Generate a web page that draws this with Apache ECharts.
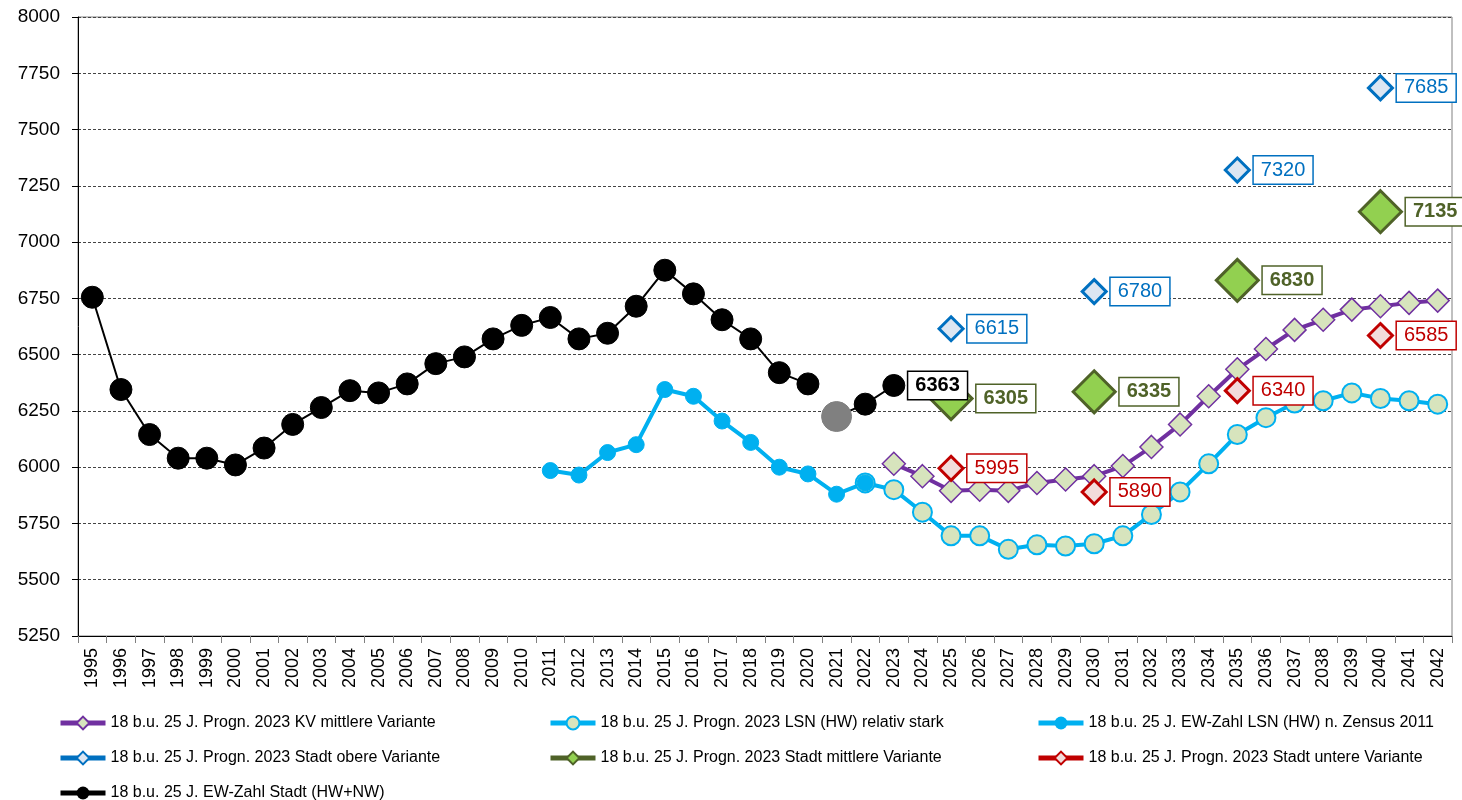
<!DOCTYPE html>
<html>
<head>
<meta charset="utf-8">
<script src="https://cdn.jsdelivr.net/npm/echarts@6/dist/echarts.min.js"></script>
<style>
  html, body { margin: 0; padding: 0; background: #fff; }
  #chart { width: 1462px; height: 800px; }
</style>
</head>
<body>
<div id="chart"></div>
<script>
// Kategorien (Jahre)
const years = ['1995','1996','1997','1998','1999','2000','2001','2002','2003','2004','2005','2006',
  '2007','2008','2009','2010','2011','2012','2013','2014','2015','2016','2017','2018','2019','2020',
  '2021','2022','2023','2024','2025','2026','2027','2028','2029','2030','2031','2032','2033','2034',
  '2035','2036','2037','2038','2039','2040','2041','2042']

// EW-Zahl Stadt (HW+NW), 1995-2020 und 2021-2023
const ewStadtHist = [6755, 6345, 6145, 6040, 6040, 6010, 6085, 6190, 6265, 6340, 6330, 6370,
  6460, 6490, 6570, 6630, 6665, 6570, 6595, 6715, 6875, 6770, 6655, 6570, 6420, 6370]
const ewStadtRecent = [6225, 6280, 6363]

// EW-Zahl LSN (HW) n. Zensus 2011, 2011-2022
const lsnZensus = [5985, 5965, 6065, 6100, 6345, 6315, 6205, 6110, 6000, 5970, 5880, 5930]

// Progn. 2023 LSN (HW) relativ stark, 2022-2042
const lsnStark = [5930, 5900, 5800, 5695, 5695, 5635, 5655, 5650, 5660, 5695, 5790, 5890,
  6015, 6145, 6220, 6285, 6295, 6330, 6305, 6295, 6280]

// Progn. 2023 KV mittlere Variante, 2023-2042
const kvMittel = [6015, 5960, 5895, 5900, 5895, 5930, 5945, 5960, 6005, 6090, 6190, 6315,
  6435, 6525, 6610, 6655, 6700, 6715, 6730, 6740]

// Progn. 2023 Stadt-Varianten
const stadtYears = ['2025', '2030', '2035', '2040']
const stadtOben = [6615, 6780, 7320, 7685]
const stadtMittel = [6305, 6335, 6830, 7135]
const stadtUnten = [5995, 5890, 6340, 6585]

const names = {
  kv: '18 b.u. 25 J. Progn. 2023 KV mittlere Variante',
  stark: '18 b.u. 25 J. Progn. 2023 LSN (HW) relativ stark',
  zensus: '18 b.u. 25 J. EW-Zahl LSN (HW) n. Zensus 2011',
  oben: '18 b.u. 25 J. Progn. 2023 Stadt obere Variante',
  mittel: '18 b.u. 25 J. Progn. 2023 Stadt mittlere Variante',
  unten: '18 b.u. 25 J. Progn. 2023 Stadt untere Variante',
  stadt: '18 b.u. 25 J. EW-Zahl Stadt (HW+NW)'
}

// Werte ab einem Startjahr auf die Jahresachse legen
const fromYear = (start, values) => {
  const out = years.map(() => null)
  const i0 = years.indexOf(start)
  values.forEach((v, i) => { out[i0 + i] = v })
  return out
}
const atYears = (ys, values) => {
  const out = years.map(() => null)
  ys.forEach((y, i) => { out[years.indexOf(y)] = values[i] })
  return out
}

const FONT = '"Liberation Sans", Arial, sans-serif'

const boxLabel = (color, bold) => ({
  show: true,
  position: 'right',
  distance: 3,
  formatter: '{c}',
  color: color,
  fontFamily: FONT,
  fontSize: 20,
  fontWeight: bold ? 'bold' : 'normal',
  backgroundColor: '#fff',
  borderColor: color,
  borderWidth: 1.5,
  padding: [4, 7, 3, 7]
})

const stadtSeries = (name, data, color, fill, size, bold) => ({
  name: name,
  type: 'line',
  data: atYears(stadtYears, data),
  connectNulls: false,
  symbol: 'diamond',
  symbolSize: size,
  itemStyle: {color: fill, borderColor: color, borderWidth: 3},
  lineStyle: {color: color, width: 4},
  label: boxLabel(color, bold),
  z: 4
})

const recentData = fromYear('2021', ewStadtRecent)
recentData[years.indexOf('2021')] = {
  value: ewStadtRecent[0],
  symbolSize: 30,
  itemStyle: {color: '#808080', borderColor: '#808080'}
}
recentData[years.indexOf('2023')] = {
  value: ewStadtRecent[2],
  label: boxLabel('#000', true)
}

const chart = echarts.init(document.getElementById('chart'))

const legendBase = {
  orient: 'vertical',
  top: 715,
  height: 86,
  padding: 0,
  itemGap: 19,
  itemWidth: 45,
  itemHeight: 16,
  lineStyle: {width: 5},
  textStyle: {fontFamily: FONT, fontSize: 16, color: '#000'}
}

chart.setOption({
  animation: false,
  grid: {left: 78, right: 10, top: 17, bottom: 164, show: true, borderColor: '#808080', borderWidth: 1},
  legend: [
    Object.assign({left: 58, data: [names.kv, names.oben, names.stadt]}, legendBase),
    Object.assign({left: 548, data: [names.stark, names.mittel]}, legendBase),
    Object.assign({left: 1036, data: [names.zensus, names.unten]}, legendBase)
  ],
  xAxis: {
    type: 'category',
    data: years,
    boundaryGap: true,
    axisLine: {lineStyle: {color: '#000', width: 1}},
    axisTick: {show: true, length: 7, lineStyle: {color: '#808080'}},
    axisLabel: {rotate: 90, interval: 0, fontFamily: FONT, fontSize: 18, color: '#000', margin: 12}
  },
  yAxis: {
    type: 'value',
    min: 5250,
    max: 8000,
    interval: 250,
    axisLine: {show: true, lineStyle: {color: '#000', width: 1}},
    axisTick: {show: true, length: 6, lineStyle: {color: '#000'}},
    axisLabel: {fontFamily: FONT, fontSize: 19, color: '#000', margin: 18, formatter: v => String(v)},
    splitLine: {lineStyle: {color: '#444', type: [3, 2], width: 1}}
  },
  series: [
    {
      name: names.stark,
      type: 'line',
      data: fromYear('2022', lsnStark),
      symbol: 'circle',
      symbolSize: 19,
      itemStyle: {color: '#d7e4bd', borderColor: '#00b0f0', borderWidth: 2},
      lineStyle: {color: '#00b0f0', width: 4},
      z: 2
    },
    {
      name: names.zensus,
      type: 'line',
      data: fromYear('2011', lsnZensus),
      symbol: 'circle',
      symbolSize: 16,
      itemStyle: {color: '#00b0f0', borderColor: '#00b0f0'},
      lineStyle: {color: '#00b0f0', width: 4},
      z: 2
    },
    {
      name: names.kv,
      type: 'line',
      data: fromYear('2023', kvMittel),
      symbol: 'diamond',
      symbolSize: 23,
      itemStyle: {color: '#d7e4bd', borderColor: '#7030a0', borderWidth: 1.5},
      lineStyle: {color: '#7030a0', width: 4},
      z: 3
    },
    stadtSeries(names.oben, stadtOben, '#0070c0', '#dce6f2', 24, false),
    stadtSeries(names.mittel, stadtMittel, '#4f6228', '#92d050', 42, true),
    stadtSeries(names.unten, stadtUnten, '#c00000', '#f2dcdb', 24, false),
    {
      name: names.stadt,
      type: 'line',
      data: fromYear('1995', ewStadtHist),
      symbol: 'circle',
      symbolSize: 22,
      itemStyle: {color: '#000', borderColor: '#000'},
      lineStyle: {color: '#000', width: 2},
      z: 5
    },
    {
      name: names.stadt,
      type: 'line',
      data: recentData,
      symbol: 'circle',
      symbolSize: 22,
      itemStyle: {color: '#000', borderColor: '#000'},
      lineStyle: {color: '#000', width: 2},
      z: 5
    }
  ]
})
</script>
</body>
</html>
